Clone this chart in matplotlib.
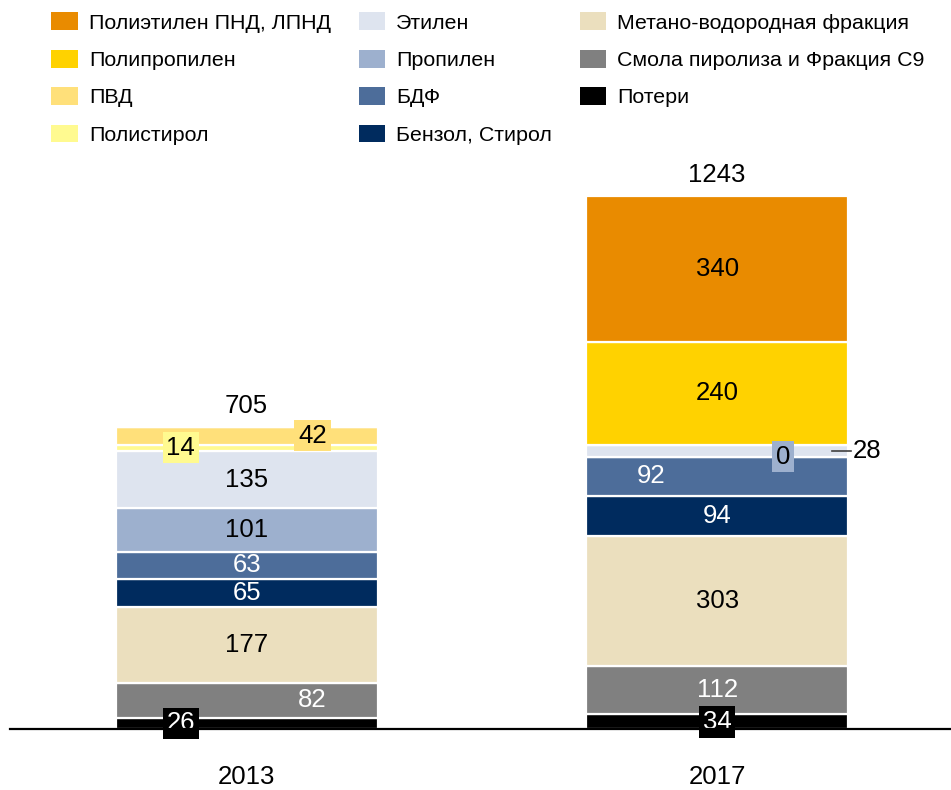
import matplotlib
matplotlib.use("Agg")
import matplotlib.pyplot as plt
from matplotlib.patches import Patch

plt.rcParams['font.family'] = ['Liberation Sans', 'DejaVu Sans']

# --- data ---
years = ['2013', '2017']

# series from the top of the stack to the bottom (legend order)
names = ['Полиэтилен ПНД, ЛПНД', 'Полипропилен', 'ПВД', 'Полистирол',
         'Этилен', 'Пропилен', 'БДФ', 'Бензол, Стирол',
         'Метано-водородная фракция', 'Смола пиролиза и Фракция С9', 'Потери']
values_2013 = [0, 0, 42, 14, 135, 101, 63, 65, 177, 82, 26]
values_2017 = [340, 240, 0, 0, 28, 0, 92, 94, 303, 112, 34]
totals = [705, 1243]

colors = ['#E98B00', '#FFD200', '#FFE07A', '#FFFA90',
          '#DEE4EF', '#9DB0CE', '#4D6D9A', '#002B5E',
          '#EBDFBE', '#808080', '#000000']
text_colors = ['black', 'black', 'black', 'black',
               'black', 'black', 'white', 'white',
               'black', 'white', 'white']

# label placement: (dx, boxed) per year and series; None = no label
place_2013 = [None, None, (0.14, True), (-0.14, True), (0, False), (0, False),
              (0, False), (0, False), (0, False), (0.14, False), (-0.14, True)]
place_2017 = [(0, False), (0, False), None, None, 'leader', (0.14, True),
              (-0.14, False), (0, False), (0, False), (0, False), (0, True)]

FS = 18.5

# --- figure ---
fig = plt.figure(figsize=(9.51, 7.90), dpi=100)
ax = fig.add_axes([10 / 951, 61 / 790, 941 / 951, 580 / 790])
ax.set_xlim(-0.503, 1.497)
ax.set_ylim(0, 1352)

width = 0.557
xs = [0, 1]
data = [values_2013, values_2017]
places = [place_2013, place_2017]

for xi, vals, place in zip(xs, data, places):
    bottom = 0
    # draw from the bottom of the stack upwards
    for k in range(len(names) - 1, -1, -1):
        v = vals[k]
        ax.bar(xi, v, width, bottom=bottom, color=colors[k],
               edgecolor='white', linewidth=1.6, zorder=2)
        p = place[k]
        mid = bottom + v / 2
        if p == 'leader':
            ax.plot([xi + width / 2 - 0.035, xi + width / 2 + 0.005], [mid, mid],
                    color='#404040', lw=1.2, zorder=4, clip_on=False)
            ax.text(xi + width / 2 + 0.01, mid, str(v), ha='left', va='center',
                    fontsize=FS, color='black')
        elif p is not None:
            dx, boxed = p
            if boxed:
                bb = dict(boxstyle='square,pad=0.15', fc=colors[k], ec='none')
                ax.text(xi + dx, mid, str(v), ha='center', va='center',
                        fontsize=FS, color=text_colors[k], bbox=bb, zorder=5)
            else:
                ax.text(xi + dx, mid, str(v), ha='center', va='center',
                        fontsize=FS, color=text_colors[k], zorder=5)
        bottom += v

for xi, t in zip(xs, totals):
    ax.annotate(str(t), (xi, t), xytext=(0, 6), textcoords='offset points',
                ha='center', va='bottom', fontsize=FS)

for s in ['top', 'right', 'left']:
    ax.spines[s].set_visible(False)
ax.spines['bottom'].set_linewidth(1.6)
ax.spines['bottom'].set_zorder(6)
ax.set_yticks([])
ax.set_xticks(xs)
ax.set_xticklabels(years, fontsize=FS)
ax.tick_params(axis='x', length=0, pad=26)

handles = [Patch(facecolor=c, edgecolor='none') for c in colors]
fig.legend(handles, names, ncol=3, loc='upper left',
           bbox_to_anchor=(45 / 951, 1 - 6 / 790), frameon=False,
           fontsize=15.4, handlelength=1.25, handleheight=0.9,
           handletextpad=0.5, columnspacing=1.3, labelspacing=0.8,
           borderaxespad=0, borderpad=0.3)

fig.savefig('out.png', dpi=100)
